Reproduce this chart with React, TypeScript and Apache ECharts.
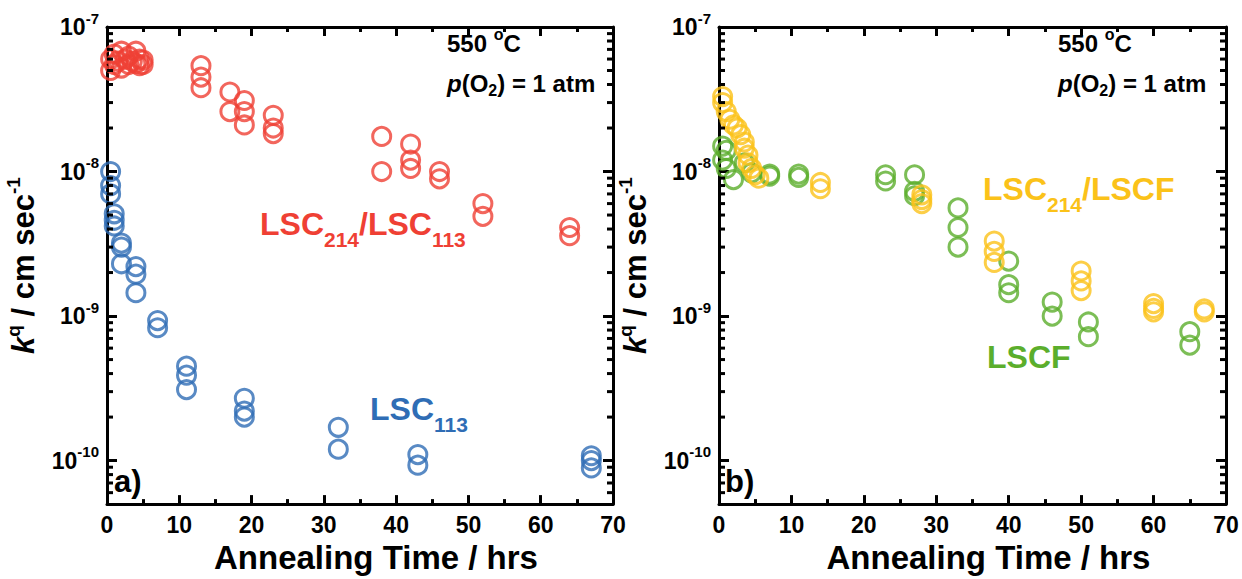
import React, { useEffect, useRef } from "react";
import * as echarts from "echarts";

// Annealing time (hrs) and surface exchange coefficient k^q (cm/s) per sample
const lsc214Lsc113Hours = [0.5, 0.5, 1, 1, 1.5, 2, 2, 2.5, 3, 3, 3.5, 4, 4, 4.5, 4.5, 5, 5, 13, 13, 13, 17, 17, 19, 19, 19, 23, 23, 23, 38, 38, 42, 42, 42, 46, 46, 52, 52, 64, 64];
const lsc214Lsc113K = [6.0e-8, 5.0e-8, 6.5e-8, 5.5e-8, 5.8e-8, 6.8e-8, 5.2e-8, 6.0e-8, 5.5e-8, 6.3e-8, 5.8e-8, 6.8e-8, 5.6e-8, 6.0e-8, 5.4e-8, 5.9e-8, 5.5e-8, 5.4e-8, 4.5e-8, 3.8e-8, 3.55e-8, 2.6e-8, 3.1e-8, 2.6e-8, 2.1e-8, 2.45e-8, 2.0e-8, 1.83e-8, 1.75e-8, 1.0e-8, 1.55e-8, 1.2e-8, 1.05e-8, 1.0e-8, 8.9e-9, 6.0e-9, 4.9e-9, 4.1e-9, 3.6e-9];

const lsc113Hours = [0.5, 0.5, 0.5, 1, 1, 1, 2, 2, 2, 4, 4, 4, 7, 7, 11, 11, 11, 19, 19, 19, 32, 32, 43, 43, 67, 67, 67];
const lsc113K = [1.0e-8, 8.0e-9, 7.0e-9, 5.1e-9, 4.6e-9, 4.2e-9, 3.2e-9, 3.0e-9, 2.3e-9, 2.2e-9, 1.95e-9, 1.45e-9, 9.3e-10, 8.3e-10, 4.5e-10, 3.9e-10, 3.1e-10, 2.7e-10, 2.2e-10, 2.0e-10, 1.7e-10, 1.2e-10, 1.1e-10, 9.3e-11, 1.08e-10, 1.0e-10, 8.9e-11];

const lsc214LscfHours = [0.5, 0.5, 1, 1.5, 2, 2.5, 3, 3.5, 3.5, 4, 4, 4.5, 5, 5.5, 14, 14, 28, 28, 28, 38, 38, 38, 50, 50, 50, 60, 60, 60, 67, 67];
const lsc214LscfK = [3.3e-8, 3.0e-8, 2.6e-8, 2.3e-8, 2.1e-8, 2.0e-8, 1.8e-8, 1.6e-8, 1.45e-8, 1.3e-8, 1.15e-8, 1.05e-8, 9.5e-9, 9.0e-9, 8.4e-9, 7.6e-9, 6.9e-9, 6.4e-9, 6.0e-9, 3.3e-9, 2.8e-9, 2.35e-9, 2.05e-9, 1.75e-9, 1.5e-9, 1.22e-9, 1.13e-9, 1.07e-9, 1.12e-9, 1.07e-9];

const lscfHours = [0.5, 0.5, 1, 1, 2, 3.5, 4.5, 7, 7, 11, 11, 23, 23, 27, 27, 27, 33, 33, 33, 40, 40, 40, 46, 46, 51, 51, 65, 65];
const lscfK = [1.5e-8, 1.2e-8, 1.05e-8, 1.4e-8, 8.8e-9, 1.15e-8, 9.8e-9, 9.6e-9, 9.3e-9, 9.6e-9, 9.1e-9, 9.5e-9, 8.6e-9, 9.5e-9, 7.3e-9, 6.8e-9, 5.6e-9, 4.1e-9, 3.0e-9, 2.4e-9, 1.65e-9, 1.45e-9, 1.25e-9, 1.0e-9, 9.1e-10, 7.2e-10, 7.8e-10, 6.3e-10];

// Axis ranges
const timeMin = 0;
const timeMax = 70;
const timeStep = 10;
const kMin = 5e-11;
const kMax = 1e-7;
const logMinorMultipliers = [2, 3, 4, 5, 6, 7, 8, 9];
const logMinorExponents = [-11, -10, -9, -8];

const RED = "#EF4034";
const BLUE = "#2F6DB5";
const YELLOW = "#FBC219";
const GREEN = "#5BAE2C";
const FONT = "'Liberation Sans', Arial, Helvetica, sans-serif";

const pairs = (xs: number[], ys: number[]) => xs.map((x, i) => [x, ys[i]]);

const minorTickValues = logMinorExponents
  .flatMap((e) => logMinorMultipliers.map((m) => m * Math.pow(10, e)))
  .filter((v) => v > kMin && v < kMax)
  .map((v) => [timeMin, v]);

function decadeLabel(v: number) {
  const e = Math.log10(v);
  const r = Math.round(e);
  if (Math.abs(e - r) > 1e-6) return "";
  return `{b|10}{s|${r}}`;
}

const supRich = {
  b: { fontSize: 23, fontWeight: "bold", fontFamily: FONT, color: "#000" },
  s: { fontSize: 15, fontWeight: "bold", fontFamily: FONT, color: "#000", padding: [0, 0, 18, 0] },
};

const yNameRich = {
  i: { fontSize: 31, fontWeight: "bold", fontStyle: "italic", fontFamily: FONT, color: "#000" },
  n: { fontSize: 31, fontWeight: "bold", fontFamily: FONT, color: "#000" },
  s: { fontSize: 19, fontWeight: "bold", fontFamily: FONT, color: "#000", padding: [0, 0, 20, 0] },
};

function xAxes(gridIndex: number) {
  const common = {
    type: "value",
    gridIndex,
    min: timeMin,
    max: timeMax,
    interval: timeStep,
    splitLine: { show: false },
    axisLine: { show: true, onZero: false, lineStyle: { color: "#000", width: 3 } },
    axisTick: { show: true, inside: true, length: 9, lineStyle: { color: "#000", width: 3 } },
    minorTick: { show: true, splitNumber: 2, length: 5, lineStyle: { color: "#000", width: 3 } },
  };
  return [
    {
      ...common,
      position: "bottom",
      axisLabel: { show: true, margin: 9, fontSize: 23, fontWeight: "bold", fontFamily: FONT, color: "#000" },
      name: "Annealing Time / hrs",
      nameLocation: "middle",
      nameGap: 35,
      nameTextStyle: { fontSize: 33, fontWeight: "bold", fontFamily: FONT, color: "#000", padding: [0, 0, 0, 32] },
    },
    { ...common, position: "top", axisLabel: { show: false } },
  ];
}

function yAxes(gridIndex: number) {
  const common = {
    type: "log",
    logBase: 10,
    gridIndex,
    min: kMin,
    max: kMax,
    splitNumber: 3,
    splitLine: { show: false },
    axisLine: { show: true, onZero: false, lineStyle: { color: "#000", width: 3 } },
    axisTick: { show: true, inside: true, length: 10, lineStyle: { color: "#000", width: 3 } },
    minorTick: { show: false },
  };
  return [
    {
      ...common,
      position: "left",
      axisLabel: { show: true, margin: 8, formatter: decadeLabel, rich: supRich },
      name: "{i|k}{s|q}{n| / cm sec}{s|-1}",
      nameLocation: "middle",
      nameRotate: 90,
      nameGap: 64,
      nameTextStyle: { rich: yNameRich },
    },
    { ...common, position: "right", axisLabel: { show: false } },
  ];
}

function minorTickSeries(xAxisIndex: number, yAxisIndex: number) {
  return {
    type: "custom",
    xAxisIndex,
    yAxisIndex,
    silent: true,
    z: 10,
    data: minorTickValues,
    encode: { x: 0, y: 1 },
    renderItem: (_params: any, api: any) => {
      const v = api.value(1);
      const l = api.coord([timeMin, v]);
      const r = api.coord([timeMax, v]);
      const style = { stroke: "#000", lineWidth: 3 };
      return {
        type: "group",
        children: [
          { type: "line", shape: { x1: l[0], y1: l[1], x2: l[0] + 6, y2: l[1] }, style },
          { type: "line", shape: { x1: r[0], y1: r[1], x2: r[0] - 6, y2: r[1] }, style },
        ],
      };
    },
  };
}

function ringSeries(name: string, xs: number[], ys: number[], color: string, axis: number) {
  return {
    type: "scatter",
    name,
    xAxisIndex: axis,
    yAxisIndex: axis,
    symbol: "circle",
    symbolSize: 18,
    itemStyle: { color: "rgba(0,0,0,0)", borderColor: color, borderWidth: 3 },
    data: pairs(xs, ys),
  };
}

const condRich = {
  n: { fontSize: 24, fontWeight: "bold", fontFamily: FONT, fill: "#000" },
  i: { fontSize: 24, fontWeight: "bold", fontStyle: "italic", fontFamily: FONT, fill: "#000" },
  sup: { fontSize: 16, fontWeight: "bold", fontFamily: FONT, fill: "#000", padding: [0, 0, 18, 0] },
  sub: { fontSize: 16, fontWeight: "bold", fontFamily: FONT, fill: "#000", padding: [14, 0, 0, 0] },
};

function conditionTexts(x: number) {
  return [
    { type: "text", x, y: 43, style: { text: "{n|550 }{sup|o}{n|C}", rich: condRich, textVerticalAlign: "middle" } },
    { type: "text", x, y: 83, style: { text: "{i|p}{n|(O}{sub|2}{n|) = 1 atm}", rich: condRich, textVerticalAlign: "middle" } },
  ];
}

function sampleLabel(x: number, y: number, text: string, color: string) {
  return {
    type: "text",
    x,
    y,
    style: {
      text,
      textVerticalAlign: "middle",
      rich: {
        m: { fontSize: 32, fontWeight: "bold", fontFamily: FONT, fill: color },
        d: { fontSize: 21, fontWeight: "bold", fontFamily: FONT, fill: color, padding: [30, 0, 0, 0] },
      },
    },
  };
}

function panelTag(x: number, y: number, text: string) {
  return {
    type: "text",
    x,
    y,
    style: { text, fontSize: 31, fontWeight: "bold", fontFamily: FONT, fill: "#000", textVerticalAlign: "middle" },
  };
}

export default function App() {
  const ref = useRef<HTMLDivElement>(null);

  useEffect(() => {
    if (!ref.current) return;
    const chart = echarts.init(ref.current, undefined, { renderer: "svg" });
    chart.setOption({
      animation: false,
      backgroundColor: "#fff",
      grid: [
        { left: 107, top: 27, width: 506, height: 481 },
        { left: 719, top: 27, width: 507, height: 481 },
      ],
      xAxis: [...xAxes(0), ...xAxes(1)],
      yAxis: [...yAxes(0), ...yAxes(1)],
      series: [
        minorTickSeries(0, 0),
        minorTickSeries(2, 2),
        ringSeries("LSC214/LSC113", lsc214Lsc113Hours, lsc214Lsc113K, RED, 0),
        ringSeries("LSC113", lsc113Hours, lsc113K, BLUE, 0),
        ringSeries("LSCF", lscfHours, lscfK, GREEN, 2),
        ringSeries("LSC214/LSCF", lsc214LscfHours, lsc214LscfK, YELLOW, 2),
      ],
      graphic: [
        ...conditionTexts(447),
        ...conditionTexts(1058),
        sampleLabel(260, 224, "{m|LSC}{d|214}{m|/LSC}{d|113}", RED),
        sampleLabel(370, 409, "{m|LSC}{d|113}", BLUE),
        sampleLabel(983, 189, "{m|LSC}{d|214}{m|/LSCF}", YELLOW),
        sampleLabel(987, 357, "{m|LSCF}", GREEN),
        panelTag(114, 481, "a)"),
        panelTag(725, 481, "b)"),
      ],
    });
    return () => chart.dispose();
  }, []);

  return (
    <div
      ref={ref}
      style={{ position: "fixed", left: 0, top: 0, width: 1242, height: 579, background: "#fff" }}
    />
  );
}
